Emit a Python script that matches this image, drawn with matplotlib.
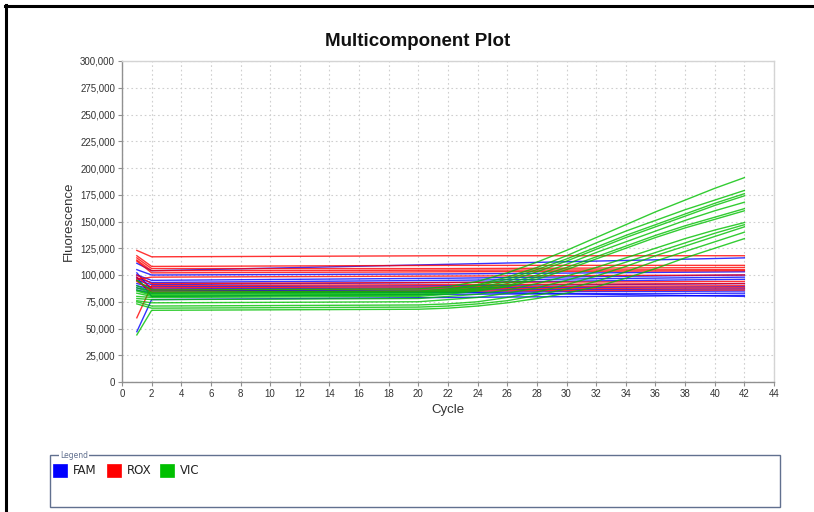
import matplotlib
matplotlib.use("Agg")
import matplotlib.pyplot as plt
from matplotlib.lines import Line2D
from matplotlib.patches import Rectangle
from matplotlib.ticker import FuncFormatter

# ---------------- data (values in thousands of fluorescence units) ----------------
dyes = ["FAM", "ROX", "VIC"]
dye_colors = ["#0000ff", "#ff0000", "#00c000"]

flat_cycles = [1, 2, 22, 42]
fam_curves = [
    [111, 104, 110, 116],
    [105, 100, 101, 103],
    [100, 95, 97, 100],
    [97, 93, 95, 98],
    [95, 91, 93, 96],
    [92, 89, 90, 92],
    [90, 87, 88, 89],
    [88, 85, 86, 87],
    [86, 83, 84, 85],
    [47, 77, 79, 81],
    [98, 80, 82, 83],
    [102, 86, 84, 80],
]
rox_curves = [
    [123, 117, 118, 118],
    [118, 108, 109, 109],
    [116, 106, 106, 107],
    [114, 104, 104.5, 105],
    [113, 102, 103, 104],
    [96, 98, 99, 100],
    [60, 90, 91, 92],
    [98, 88, 89, 90],
    [94, 86, 87, 88],
    [95, 84, 85, 86],
    [100, 92, 93, 94],
]
vic_cycles = [1, 2, 20, 22, 24, 26, 28, 30, 32, 34, 36, 38, 40, 42]
vic_curves = [
    [95, 86, 87, 89, 94, 102, 112, 123, 135, 147, 159, 170, 181, 191],
    [90, 84, 85, 87, 91, 98, 107, 118, 130, 141, 151, 161, 170, 179],
    [88, 83, 84, 86, 90, 96, 105, 115, 126, 137, 147, 157, 167, 176],
    [86, 82, 83, 85, 88, 94, 103, 113, 124, 135, 145, 155, 165, 174],
    [85, 81, 82, 84, 87, 92, 100, 110, 121, 131, 141, 151, 160, 168],
    [83, 80, 81, 83, 86, 90, 98, 107, 117, 127, 137, 146, 154, 162],
    [80, 79, 80, 82, 85, 89, 96, 105, 115, 125, 135, 144, 152, 160],
    [78, 77, 78, 80, 82, 86, 92, 99, 107, 116, 125, 134, 142, 149],
    [76, 74, 75, 77, 79, 83, 88, 95, 103, 112, 121, 130, 139, 147],
    [75, 71, 72, 73, 75, 79, 84, 91, 99, 108, 118, 127, 136, 145],
    [73, 69, 70, 71, 73, 76, 81, 87, 94, 103, 113, 122, 131, 140],
    [44, 67, 68, 69, 71, 74, 78, 83, 89, 97, 106, 116, 125, 134],
]

x_ticks = list(range(0, 45, 2))
y_ticks = list(range(0, 300001, 25000))

# ---------------- figure ----------------
W, H = 814, 512
fig = plt.figure(figsize=(W / 100, H / 100), dpi=100)
fig.patch.set_facecolor("white")

def fx(px):
    return px / W

def fy(py):
    return 1 - py / H

ax = fig.add_axes([fx(122), fy(382), fx(774) - fx(122), fy(61) - fy(382)])

series = [
    (flat_cycles, fam_curves, dye_colors[0]),
    (flat_cycles, rox_curves, dye_colors[1]),
    (vic_cycles, vic_curves, dye_colors[2]),
]
for cyc, curves, col in series:
    for c in curves:
        ax.plot(cyc, [v * 1000 for v in c], color=col, lw=1.0, alpha=0.8,
                solid_joinstyle="round")

ax.set_xlim(0, 44)
ax.set_ylim(0, 300000)
ax.set_xticks(x_ticks)
ax.set_yticks(y_ticks)
ax.yaxis.set_major_formatter(FuncFormatter(lambda v, p: f"{int(v):,}"))
ax.grid(True, color="#cfcfcf", linestyle=(0, (1.5, 2.5)), lw=0.8)
ax.set_axisbelow(True)
for s in ["top", "right"]:
    ax.spines[s].set_color("#d4d4d4")
for s in ["left", "bottom"]:
    ax.spines[s].set_color("#909090")
for s in ax.spines.values():
    s.set_linewidth(1.0)
ax.tick_params(axis="both", which="major", length=3, width=0.8, color="#909090",
               labelsize=7, labelcolor="#333333", pad=2)
for lab in ax.get_xticklabels() + ax.get_yticklabels():
    lab.set_fontfamily("Liberation Sans")

ax.set_xlabel("Cycle", fontsize=9.5, family="Liberation Sans", color="#333333", labelpad=4)
ax.set_ylabel("Fluorescence", fontsize=9.5, family="Liberation Sans", color="#333333", labelpad=4)

fig.text(fx(418), fy(41), "Multicomponent Plot", ha="center", va="center",
         fontsize=13.5, fontweight="bold", family="Liberation Sans", color="#111111")

# outer black border (top and left)
fig.add_artist(Line2D([fx(5), 1], [fy(5.5), fy(5.5)], color="black", lw=2.2,
                      transform=fig.transFigure))
fig.add_artist(Line2D([fx(5.5), fx(5.5)], [fy(5), 0], color="black", lw=2.2,
                      transform=fig.transFigure))

# legend box
fig.add_artist(Rectangle((fx(50), fy(507)), fx(780) - fx(50), fy(455) - fy(507),
                         transform=fig.transFigure, fill=False,
                         edgecolor="#61708f", lw=1.0))
fig.text(fx(60), fy(455), "Legend", ha="left", va="center", fontsize=5.5,
         family="DejaVu Sans", color="#61708f",
         bbox=dict(facecolor="white", edgecolor="none", pad=0.6))
patch_x = [53, 107, 160]
for name, col, px in zip(dyes, dye_colors, patch_x):
    fig.add_artist(Rectangle((fx(px), fy(477)), fx(14), fy(464) - fy(477),
                             transform=fig.transFigure, facecolor=col,
                             edgecolor=col, lw=0.5))
    fig.text(fx(px + 20), fy(471), name, ha="left", va="center", fontsize=8.5,
             family="DejaVu Sans", color="#222222")

fig.savefig("out.png", dpi=100, facecolor="white")
